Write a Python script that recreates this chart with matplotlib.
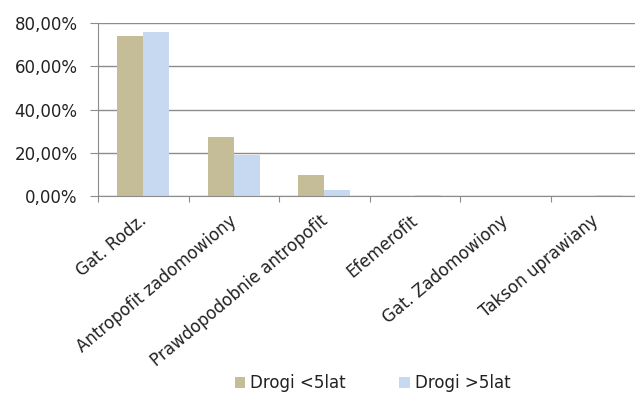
import numpy as np
import matplotlib.pyplot as plt
from matplotlib.ticker import FuncFormatter
from matplotlib.transforms import ScaledTranslation

plt.rcParams['font.family'] = ['DejaVu Sans']

#----------------------------------------------------------------
#              DATA
#----------------------------------------------------------------
categories = ['Gat. Rodz.', 'Antropofit zadomowiony', 'Prawdopodobnie antropofit',
              'Efemerofit', 'Gat. Zadomowiony', 'Takson uprawiany']
young_roads = [74.0, 27.1, 9.9, 0.0, 0.0, 0.0]   # Drogi <5lat
old_roads = [76.0, 19.1, 2.8, 0.6, 0.0, 0.6]     # Drogi >5lat
series_names = ['Drogi <5lat', 'Drogi >5lat']
yticks = [0, 20, 40, 60, 80]

#----------------------------------------------------------------
#              PLOT
#----------------------------------------------------------------
fig = plt.figure(figsize=(6.35, 3.94), dpi=100)
ax = fig.add_axes([98 / 635, 198 / 394, 543 / 635, 173 / 394])

x = np.arange(len(categories))
w = 0.29
b1 = ax.bar(x - w / 2, young_roads, w, color='#C4BD97', label=series_names[0], zorder=2)
b2 = ax.bar(x + w / 2, old_roads, w, color='#C6D9F1', label=series_names[1], zorder=2)

ax.set_xlim(-0.5, len(categories) - 0.5)
ax.set_ylim(0, 80)
ax.set_yticks(yticks)
ax.yaxis.set_major_formatter(FuncFormatter(lambda v, p: f'{v:.2f}%'.replace('.', ',')))
ax.grid(axis='y', color='#8C8C8C', linewidth=1, zorder=0)

# category boundaries as ticks, labels at centers
ax.set_xticks(np.arange(-0.5, len(categories), 1.0))
ax.set_xticklabels([])
ax.set_xticks(x, minor=True)
ax.set_xticklabels(categories, minor=True, rotation=40, ha='right', va='baseline',
                   rotation_mode='anchor', fontsize=12, color='#222222')
ax.tick_params(axis='x', which='minor', length=0, pad=19)
ax.tick_params(axis='x', which='major', length=4.5, color='#8C8C8C', direction='out')
ax.tick_params(axis='y', length=5.8, pad=9, color='#8C8C8C', labelsize=12, labelcolor='#222222')
shift = ScaledTranslation(0.04, 0, fig.dpi_scale_trans)
for lbl in ax.get_xticklabels(minor=True):
    lbl.set_transform(lbl.get_transform() + shift)

for s in ['top', 'right']:
    ax.spines[s].set_visible(False)
for s in ['left', 'bottom']:
    ax.spines[s].set_color('#8C8C8C')

fig.legend(handles=[b1, b2], loc='center', bbox_to_anchor=(0.587, 0.028), ncol=2,
           frameon=False, fontsize=12, handlelength=0.65, handleheight=0.65,
           handletextpad=0.3, columnspacing=3.2, labelcolor='#222222')

fig.savefig('out.png', dpi=100)
